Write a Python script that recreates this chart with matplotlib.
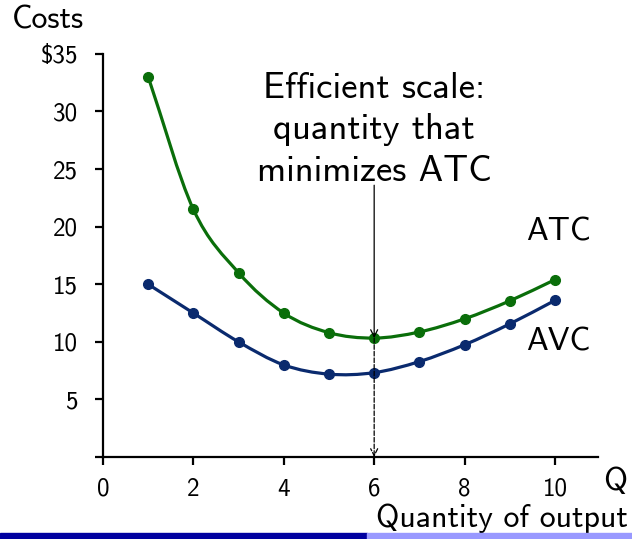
import numpy as np
import matplotlib
matplotlib.use('Agg')
import matplotlib.pyplot as plt
from matplotlib.path import Path
from matplotlib.patches import PathPatch, Rectangle

plt.rcParams['font.family'] = ['cmss10', 'DejaVu Sans']
plt.rcParams['mathtext.fontset'] = 'cm'
plt.rcParams['axes.unicode_minus'] = False

# Data
quantity = [1, 2, 3, 4, 5, 6, 7, 8, 9, 10]
atc = [33.0, 21.5, 16.0, 12.5, 10.8, 10.33, 10.86, 12.0, 13.56, 15.4]
avc = [15.0, 12.5, 10.0, 8.0, 7.2, 7.33, 8.29, 9.75, 11.56, 13.6]
yticks = [0, 5, 10, 15, 20, 25, 30, 35]
ytick_labels = ['0', '5', '10', '15', '20', '25', '30', '$35']
xticks = [0, 2, 4, 6, 8, 10]
q_min = 6
atc_min = 10.33

green = '#0a6e0a'
navy = '#0a2a6e'


def smooth_path(xs, ys):
    # Catmull-Rom through the points, drawn as cubic Bezier segments
    xs = np.asarray(xs, float)
    ys = np.asarray(ys, float)
    px = np.concatenate([[2 * xs[0] - xs[1]], xs, [2 * xs[-1] - xs[-2]]])
    py = np.concatenate([[2 * ys[0] - ys[1]], ys, [2 * ys[-1] - ys[-2]]])
    verts = [(xs[0], ys[0])]
    codes = [Path.MOVETO]
    for i in range(1, len(px) - 2):
        c1 = (px[i] + (px[i + 1] - px[i - 1]) / 6, py[i] + (py[i + 1] - py[i - 1]) / 6)
        c2 = (px[i + 1] - (px[i + 2] - px[i]) / 6, py[i + 1] - (py[i + 2] - py[i]) / 6)
        verts += [c1, c2, (px[i + 1], py[i + 1])]
        codes += [Path.CURVE4] * 3
    return Path(verts, codes)


fig = plt.figure(figsize=(6.32, 5.39), dpi=100)
ax = fig.add_axes([0.163, 0.152, 0.783, 0.748])

ax.add_patch(PathPatch(smooth_path(quantity, atc), fill=False, color=green, lw=2.3))
ax.add_patch(PathPatch(smooth_path(quantity, avc), fill=False, color=navy, lw=2.3))
ax.plot(quantity, atc, 'o', color=green, ms=7)
ax.plot(quantity, avc, 'o', color=navy, ms=7)

ax.set_xlim(0, 10.95)
ax.set_ylim(0, 35)
for s in ['top', 'right']:
    ax.spines[s].set_visible(False)
for s in ['left', 'bottom']:
    ax.spines[s].set_linewidth(1.6)
ax.set_xticks(xticks)
ax.set_yticks(yticks)
ax.set_yticklabels(ytick_labels)
ax.tick_params(direction='out', length=6, width=1.6, labelsize=18)
ax.tick_params(axis='x', pad=9)
ax.tick_params(axis='y', pad=12)

# dashed drop line and pointer arrow
ax.annotate('', xy=(q_min, 0), xytext=(q_min, atc_min),
            arrowprops=dict(arrowstyle='->,head_length=0.5,head_width=0.25', ls='--',
                            lw=0.9, color='black', shrinkA=0, shrinkB=0))
ax.annotate('', xy=(q_min, atc_min), xytext=(q_min, 23.6),
            arrowprops=dict(arrowstyle='->,head_length=0.5,head_width=0.25',
                            lw=0.9, color='black', shrinkA=0, shrinkB=0))

ax.text(q_min, 28.4, 'Efficient scale:\nquantity that\nminimizes ATC',
        ha='center', va='center', fontsize=26.5, linespacing=1.33)
ax.text(10.07, 19.5, 'ATC', ha='center', va='center', fontsize=23.5)
ax.text(10.07, 10.0, 'AVC', ha='center', va='center', fontsize=23.5)

fig.text(615 / 632, 1 - 482 / 539, 'Q', ha='center', va='center', fontsize=23.5)
fig.text(628 / 632, 1 - 518 / 539, 'Quantity of output', ha='right', va='center', fontsize=23)
fig.text(48 / 632, 1 - 20 / 539, 'Costs', ha='center', va='center', fontsize=23)

# hide most of the 0 label, as in the reference
fig.patches.append(Rectangle((20 / 632, 1 - 470 / 539), 70 / 632, 21 / 539,
                             transform=fig.transFigure, color='white', zorder=5))

# bottom stripe
fig.patches.append(Rectangle((0, 0), 367 / 632, 6 / 539, transform=fig.transFigure,
                             color='#0000a0', zorder=5))
fig.patches.append(Rectangle((367 / 632, 0), 265 / 632, 6 / 539, transform=fig.transFigure,
                             color='#9999ff', zorder=5))

fig.savefig('out.png', dpi=100)
